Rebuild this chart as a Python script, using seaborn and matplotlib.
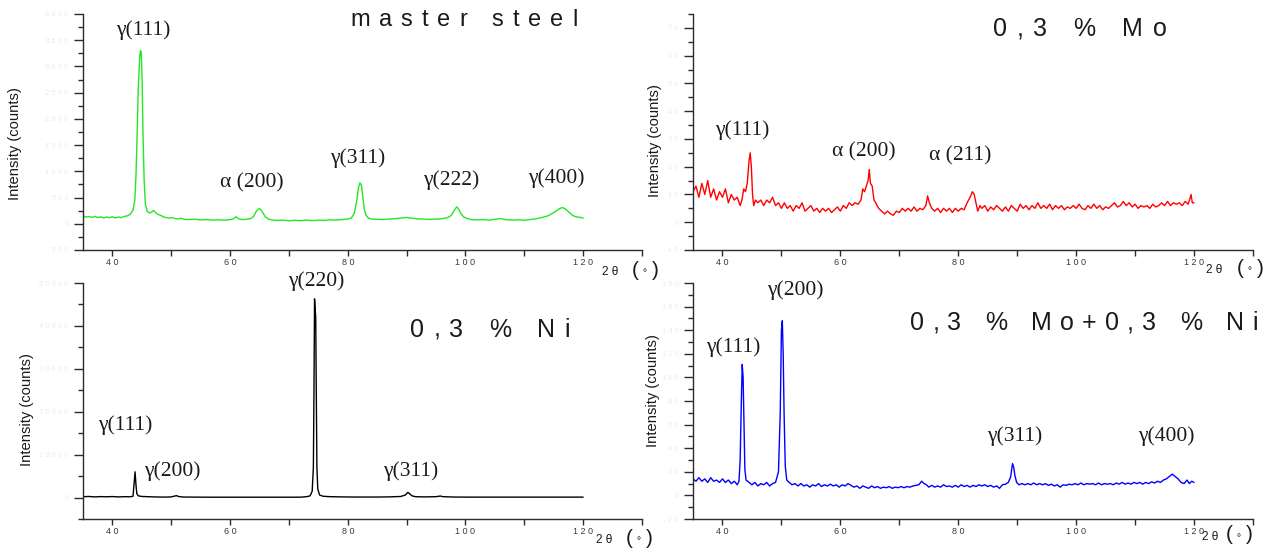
import matplotlib
matplotlib.use("Agg")
import matplotlib.pyplot as plt
import pandas as pd
import seaborn as sns
from matplotlib.ticker import MultipleLocator, FuncFormatter
from matplotlib.font_manager import FontProperties, findfont, get_font

# ---------------------------------------------------------------------------
# X-ray diffraction patterns: (2θ in degrees, intensity in counts)
# ---------------------------------------------------------------------------
master_steel = [
    (35.0, 150), (35.5, 128), (36.0, 138), (36.5, 122), (37.0, 142), (37.5, 118), (38.0, 132), (38.5, 112),
    (39.0, 128), (39.5, 116), (40.0, 134), (40.5, 112), (41.0, 128), (41.5, 118), (42.0, 140), (42.5, 150),
    (43.0, 178), (43.5, 260), (43.8, 450), (44.0, 900), (44.2, 1700), (44.4, 2600), (44.6, 3100), (44.75, 3300),
    (44.9, 3280), (45.05, 2700), (45.2, 1700), (45.4, 800), (45.6, 380), (45.9, 240), (46.3, 205), (46.7, 225),
    (47.0, 255), (47.3, 215), (47.7, 180), (48.2, 160), (48.7, 128), (49.2, 118), (49.7, 108), (50.2, 116),
    (50.7, 98), (51.2, 94), (51.7, 104), (52.2, 84), (53.0, 80), (54.0, 88), (55.0, 74), (56.0, 80),
    (57.0, 70), (58.0, 76), (59.0, 68), (60.0, 80), (60.6, 96), (61.0, 135), (61.4, 95), (62.0, 80),
    (62.8, 86), (63.5, 100), (64.0, 140), (64.4, 230), (64.8, 280), (65.1, 285), (65.5, 220), (66.0, 130),
    (66.6, 85), (67.3, 70), (68.0, 64), (69.0, 70), (70.0, 56), (71.0, 66), (72.0, 60), (73.0, 70),
    (74.0, 60), (75.0, 70), (76.0, 64), (77.0, 76), (78.0, 70), (79.0, 80), (80.0, 90), (80.6, 110),
    (81.1, 200), (81.5, 420), (81.8, 680), (82.05, 780), (82.3, 740), (82.55, 520), (82.8, 280), (83.1, 160),
    (83.5, 110), (84.0, 90), (85.0, 84), (86.0, 80), (87.0, 90), (88.0, 96), (89.0, 110), (90.0, 120),
    (91.0, 105), (92.0, 94), (93.0, 90), (94.0, 84), (95.0, 90), (96.0, 96), (97.0, 120), (97.6, 160),
    (98.1, 260), (98.5, 320), (98.8, 290), (99.2, 200), (99.7, 130), (100.3, 100), (101.0, 80), (102.0, 74),
    (103.0, 80), (104.0, 70), (105.0, 86), (106.0, 100), (107.0, 76), (108.0, 70), (109.0, 76), (110.0, 66),
    (111.0, 80), (112.0, 96), (113.0, 120), (114.0, 150), (114.8, 200), (115.5, 250), (116.0, 290), (116.5, 310),
    (117.0, 280), (117.6, 220), (118.2, 160), (118.8, 130), (119.4, 125), (120.0, 108),
]

steel_mo = [
    (35.0, 11), (35.5, 13), (36.0, 9), (36.5, 14), (37.0, 10), (37.5, 15), (38.0, 9), (38.5, 12),
    (39.0, 8), (39.5, 11), (40.0, 9), (40.5, 12), (41.0, 7), (41.5, 10), (42.0, 8), (42.5, 9),
    (43.0, 6), (43.3, 8), (43.6, 12), (43.9, 11), (44.2, 14), (44.5, 22), (44.7, 25), (44.9, 20),
    (45.1, 10), (45.3, 6), (45.6, 8), (46.0, 7), (46.5, 8), (47.0, 6), (47.5, 8), (48.0, 7),
    (48.5, 9), (49.0, 6), (49.5, 7), (50.0, 5), (50.5, 7), (51.0, 5), (51.5, 6), (52.0, 4),
    (52.5, 6), (53.0, 5), (53.5, 7), (54.0, 4), (54.5, 5), (55.0, 6), (55.5, 4), (56.0, 5),
    (56.5, 3.5), (57.0, 5), (57.5, 4), (58.0, 5), (58.5, 3.5), (59.0, 4.5), (59.5, 5.5), (60.0, 4),
    (60.5, 6), (61.0, 5), (61.5, 7), (62.0, 6), (62.5, 7), (63.0, 6.5), (63.5, 8), (63.8, 12),
    (64.1, 11), (64.4, 13), (64.7, 15), (64.9, 19), (65.1, 14), (65.4, 13), (65.7, 8), (66.0, 7),
    (66.5, 5), (67.0, 4), (67.5, 3), (68.0, 4), (68.5, 3), (69.0, 2.5), (69.5, 4), (70.0, 3.5),
    (70.5, 5), (71.0, 4), (71.5, 5), (72.0, 4), (72.5, 5.5), (73.0, 4), (73.5, 5), (74.0, 4.5),
    (74.5, 6), (74.8, 9.5), (75.1, 7), (75.5, 5), (76.0, 4), (76.5, 5), (77.0, 3.5), (77.5, 5),
    (78.0, 4), (78.5, 5), (79.0, 3.5), (79.5, 5), (80.0, 4), (80.5, 5), (81.0, 4.5), (81.5, 7),
    (82.0, 9), (82.4, 11), (82.7, 10), (83.0, 7), (83.3, 4), (83.7, 6), (84.0, 5), (84.5, 6),
    (85.0, 4), (85.5, 5.5), (86.0, 4.5), (86.5, 6), (87.0, 5), (87.5, 4), (88.0, 5.5), (88.5, 4),
    (89.0, 6), (89.5, 5), (90.0, 4), (90.5, 6.5), (91.0, 5), (91.5, 6), (92.0, 4.5), (92.5, 6),
    (93.0, 5), (93.5, 7), (94.0, 5), (94.5, 6), (95.0, 5), (95.5, 6.5), (96.0, 4.5), (96.5, 6),
    (97.0, 5), (97.5, 6), (98.0, 4.5), (98.5, 5.5), (99.0, 5), (99.5, 6), (100.0, 5), (100.5, 6.5),
    (101.0, 5), (101.5, 4.5), (102.0, 6), (102.5, 5), (103.0, 6.5), (103.5, 5), (104.0, 6), (104.5, 4.5),
    (105.0, 5.5), (105.5, 5), (106.0, 6), (106.5, 7), (107.0, 5.5), (107.5, 6), (108.0, 7.5), (108.5, 6),
    (109.0, 7), (109.5, 5.5), (110.0, 6.5), (110.5, 5), (111.0, 6), (111.5, 5.5), (112.0, 6), (112.5, 5),
    (113.0, 6.5), (113.5, 5.5), (114.0, 6), (114.5, 7), (115.0, 6), (115.5, 7.5), (116.0, 6), (116.5, 7),
    (117.0, 6.5), (117.5, 7), (118.0, 6), (118.5, 7.5), (119.0, 6.5), (119.5, 10), (119.7, 7), (120.0, 7),
]

steel_ni = [
    (35.0, 200), (36.0, 250), (37.0, 150), (38.0, 220), (39.0, 180), (40.0, 230), (41.0, 150), (42.0, 200),
    (43.0, 180), (43.5, 300), (43.7, 3500), (43.85, 6000), (44.0, 3000), (44.15, 900), (44.4, 400), (45.0, 250),
    (46.0, 200), (47.0, 150), (48.0, 120), (49.0, 100), (50.0, 150), (50.6, 350), (50.9, 450), (51.2, 250),
    (52.0, 120), (54.0, 100), (56.0, 80), (58.0, 80), (60.0, 80), (62.0, 80), (64.0, 80), (66.0, 80),
    (68.0, 80), (70.0, 80), (72.0, 90), (73.0, 200), (73.6, 400), (73.95, 1500), (74.15, 7000), (74.25, 24000),
    (74.35, 46300), (74.45, 44000), (74.55, 42000), (74.65, 24000), (74.75, 7000), (74.9, 2000), (75.2, 600), (75.8, 300),
    (77.0, 200), (79.0, 150), (81.0, 120), (83.0, 120), (85.0, 120), (87.0, 150), (89.0, 250), (89.8, 600),
    (90.2, 1200), (90.5, 900), (90.9, 400), (91.5, 200), (93.0, 150), (95.0, 200), (95.7, 350), (96.2, 200),
    (98.0, 120), (100.0, 100), (105.0, 100), (110.0, 100), (115.0, 100), (120.0, 100),
]

steel_mo_ni = [
    (35.0, 14), (35.5, 12), (36.0, 15), (36.5, 12), (37.0, 14), (37.5, 11), (38.0, 15), (38.5, 12),
    (39.0, 13), (39.5, 11), (40.0, 14), (40.5, 11), (41.0, 13), (41.5, 10), (42.0, 12), (42.5, 9),
    (42.8, 12), (43.0, 30), (43.2, 80), (43.35, 111), (43.5, 100), (43.65, 60), (43.8, 22), (44.0, 13),
    (44.5, 11), (45.0, 9), (45.5, 11), (46.0, 8), (46.5, 10), (47.0, 9), (47.5, 11), (48.0, 8),
    (48.5, 10), (49.0, 11), (49.5, 20), (49.8, 70), (50.0, 140), (50.15, 148), (50.3, 120), (50.45, 70),
    (50.65, 25), (50.9, 13), (51.3, 11), (51.8, 9), (52.3, 10), (52.8, 8), (53.3, 10), (53.8, 8),
    (54.3, 9), (54.8, 7), (55.3, 9), (55.8, 8), (56.3, 10), (56.8, 7.5), (57.3, 9), (57.8, 8),
    (58.3, 9.5), (58.8, 8), (59.3, 9), (59.8, 7), (60.3, 9), (60.8, 8), (61.3, 10), (61.8, 8.5),
    (62.3, 7), (62.8, 8), (63.3, 6), (63.8, 8), (64.3, 7), (64.8, 6), (65.3, 8), (65.8, 6.5),
    (66.3, 7.5), (66.8, 6), (67.3, 7), (67.8, 6.5), (68.3, 7.5), (68.8, 6), (69.3, 7), (69.8, 6.5),
    (70.3, 7.5), (70.8, 6.5), (71.3, 7.5), (71.8, 7), (72.3, 8), (72.8, 8.5), (73.3, 9), (73.8, 12),
    (74.2, 10), (74.6, 9), (75.0, 7), (75.5, 8.5), (76.0, 7), (76.5, 8), (77.0, 7), (77.5, 9),
    (78.0, 7.5), (78.5, 8), (79.0, 7), (79.5, 8.5), (80.0, 7), (80.5, 9), (81.0, 7.5), (81.5, 8.5),
    (82.0, 7), (82.5, 8.5), (83.0, 7.5), (83.5, 9), (84.0, 8), (84.5, 9), (85.0, 7.5), (85.5, 8.5),
    (86.0, 7), (86.5, 8), (87.0, 6), (87.5, 9), (88.0, 9.5), (88.5, 11), (88.9, 16), (89.2, 27),
    (89.4, 24), (89.6, 17), (89.9, 11), (90.3, 9), (90.8, 10), (91.3, 9), (91.8, 10), (92.3, 9),
    (92.8, 10.5), (93.3, 9), (93.8, 10), (94.3, 9), (94.8, 10), (95.3, 8.5), (95.8, 9.5), (96.3, 8),
    (96.8, 9), (97.3, 7), (97.8, 9), (98.3, 8.5), (98.8, 9.5), (99.3, 9), (99.8, 10), (100.3, 9),
    (100.8, 10.5), (101.3, 9), (101.8, 10), (102.3, 9.5), (102.8, 10), (103.3, 9), (103.8, 10.5), (104.3, 9),
    (104.8, 10), (105.3, 9.5), (105.8, 10), (106.3, 9), (106.8, 10.5), (107.3, 9.5), (107.8, 11), (108.3, 9.5),
    (108.8, 10.5), (109.3, 9.5), (109.8, 11), (110.3, 10), (110.8, 11), (111.3, 9.5), (111.8, 11), (112.3, 10),
    (112.8, 11.5), (113.3, 10.5), (113.8, 12), (114.3, 11), (114.8, 13), (115.3, 14), (115.8, 16), (116.3, 18),
    (116.8, 16), (117.3, 14), (117.8, 11), (118.3, 10), (118.8, 13), (119.2, 10), (119.6, 12), (120.0, 11),
]

sample_titles = ["master steel", "0,3 % Mo", "0,3 % Ni", "0,3 % Mo+0,3 % Ni"]
line_colors = ["#22e822", "#ff0000", "#000000", "#0000ff"]

# peak indexing labels, per panel
peak_labels = [
    ["γ(111)", "α (200)", "γ(311)", "γ(222)", "γ(400)"],
    ["γ(111)", "α (200)", "α (211)"],
    ["γ(220)", "γ(111)", "γ(200)", "γ(311)"],
    ["γ(200)", "γ(111)", "γ(311)", "γ(400)"],
]

# ---------------------------------------------------------------------------
# Figure layout (pixel based, 1286 x 553 at 100 dpi)
# ---------------------------------------------------------------------------
W, H, DPI = 1286, 553, 100
sns.set_theme(style="ticks")
plt.rcParams["font.family"] = ["Liberation Sans", "DejaVu Sans"]

fig = plt.figure(figsize=(W / DPI, H / DPI), dpi=DPI)
fig.patch.set_facecolor("white")

SPINE = "#2b2b2b"


def fx(px):
    return px / W


def fy(py):
    return 1 - py / H


def spaced(v):
    s = f"{v:g}"
    return " ".join(s)


def tracked(x_px, y_px, s, size, track, family="Liberation Sans", color="#1a1a1a"):
    """Draw a string character by character with extra letter spacing."""
    prop = FontProperties(family=family, size=size)
    font = get_font(findfont(prop))
    font.set_size(size, DPI)
    x = x_px
    for ch in s:
        adv = font.load_char(ord(ch)).linearHoriAdvance / 65536
        if not ch.isspace():
            fig.text(fx(x), fy(y_px), ch, fontproperties=prop, color=color,
                     ha="left", va="baseline")
        x += adv + track


panel_specs = [
    dict(data=master_steel, box=(83, 642, 14, 250), ylim=(-500, 4000), major=500, minor=250),
    dict(data=steel_mo, box=(693, 1253, 14, 250), ylim=(-10, 75), major=10, minor=5),
    dict(data=steel_ni, box=(83, 642, 283, 519), ylim=(-5000, 50000), major=10000, minor=5000),
    dict(data=steel_mo_ni, box=(693, 1253, 283, 519), ylim=(-20, 180), major=20, minor=10),
]

for i, spec in enumerate(panel_specs):
    l, r, t, b = spec["box"]
    ax = fig.add_axes([fx(l), fy(b), (r - l) / W, (b - t) / H])
    df = pd.DataFrame(spec["data"], columns=["two_theta", "counts"])
    sns.lineplot(data=df, x="two_theta", y="counts", ax=ax, color=line_colors[i],
                 linewidth=1.0, estimator=None, sort=False)
    ax.set_xlim(35, 130)
    ax.set_ylim(*spec["ylim"])
    ax.set_xlabel("")
    ax.set_ylabel("")
    ax.set_facecolor("none")
    for side in ("top", "right"):
        ax.spines[side].set_visible(False)
    for side in ("left", "bottom"):
        ax.spines[side].set_color(SPINE)
        ax.spines[side].set_linewidth(1.0)

    ax.xaxis.set_major_locator(MultipleLocator(20))
    ax.xaxis.set_minor_locator(MultipleLocator(10))
    ax.yaxis.set_major_locator(MultipleLocator(spec["major"]))
    ax.yaxis.set_minor_locator(MultipleLocator(spec["minor"]))
    ax.xaxis.set_major_formatter(FuncFormatter(lambda v, p: spaced(int(round(v)))))
    ax.yaxis.set_major_formatter(FuncFormatter(lambda v, p: spaced(int(round(v)))))

    ax.tick_params(axis="x", which="both", direction="out", length=4.5, width=1.0,
                   color=SPINE, labelsize=6.5, labelcolor="#3a3a3a", pad=1.5)
    ax.tick_params(axis="y", which="major", direction="out", length=6.5, width=1.0,
                   color=SPINE, labelsize=5.5, labelcolor="#ebe9f3", pad=4)
    ax.tick_params(axis="y", which="minor", direction="out", length=3.5, width=1.0,
                   color=SPINE)

# y-axis titles
for (xc, yc) in [(15, 144), (655, 141), (27, 410), (653, 391)]:
    fig.text(fx(xc), fy(yc), "Intensity (counts)", rotation=90, ha="center", va="center",
             fontsize=10.6, color="#1a1a1a")

# x-axis titles: "2θ (°)"
for (x2, xp, yb) in [(610, 632, 272), (1214, 1237, 270), (604, 626, 540), (1210, 1226, 537)]:
    fig.text(fx(x2), fy(yb), "2 θ", ha="center", va="center", fontsize=8.5, color="#1a1a1a")
    fig.text(fx(xp), fy(yb - 2), "(", ha="left", va="center", fontsize=15, color="#1a1a1a")
    fig.text(fx(xp + 13), fy(yb - 2), "∘", ha="center", va="center", fontsize=7,
             color="#1a1a1a", family="DejaVu Sans")
    fig.text(fx(xp + 20), fy(yb - 2), ")", ha="left", va="center", fontsize=15, color="#1a1a1a")

# sample titles, letter-spaced
tracked(350, 26, sample_titles[0], 17, 9.0)
tracked(993, 36, sample_titles[1], 18, 9.7)
tracked(410, 337, sample_titles[2], 18, 9.3)
tracked(910, 330, sample_titles[3], 18, 8.3)

# reflection labels (serif)
label_positions = [
    [(143, 30), (252, 183), (358, 158), (451, 180), (556, 178)],
    [(742, 130), (864, 152), (960, 156)],
    [(316, 281), (125, 425), (172, 471), (411, 471)],
    [(795, 290), (733, 347), (1015, 436), (1166, 436)],
]
for labels, positions in zip(peak_labels, label_positions):
    for text, (px, py) in zip(labels, positions):
        fig.text(fx(px), fy(py), text, ha="center", va="center", fontsize=15.5,
                 family=["Liberation Serif", "DejaVu Serif"], color="#1a1a1a")

fig.savefig("out.png", dpi=DPI, facecolor="white")
